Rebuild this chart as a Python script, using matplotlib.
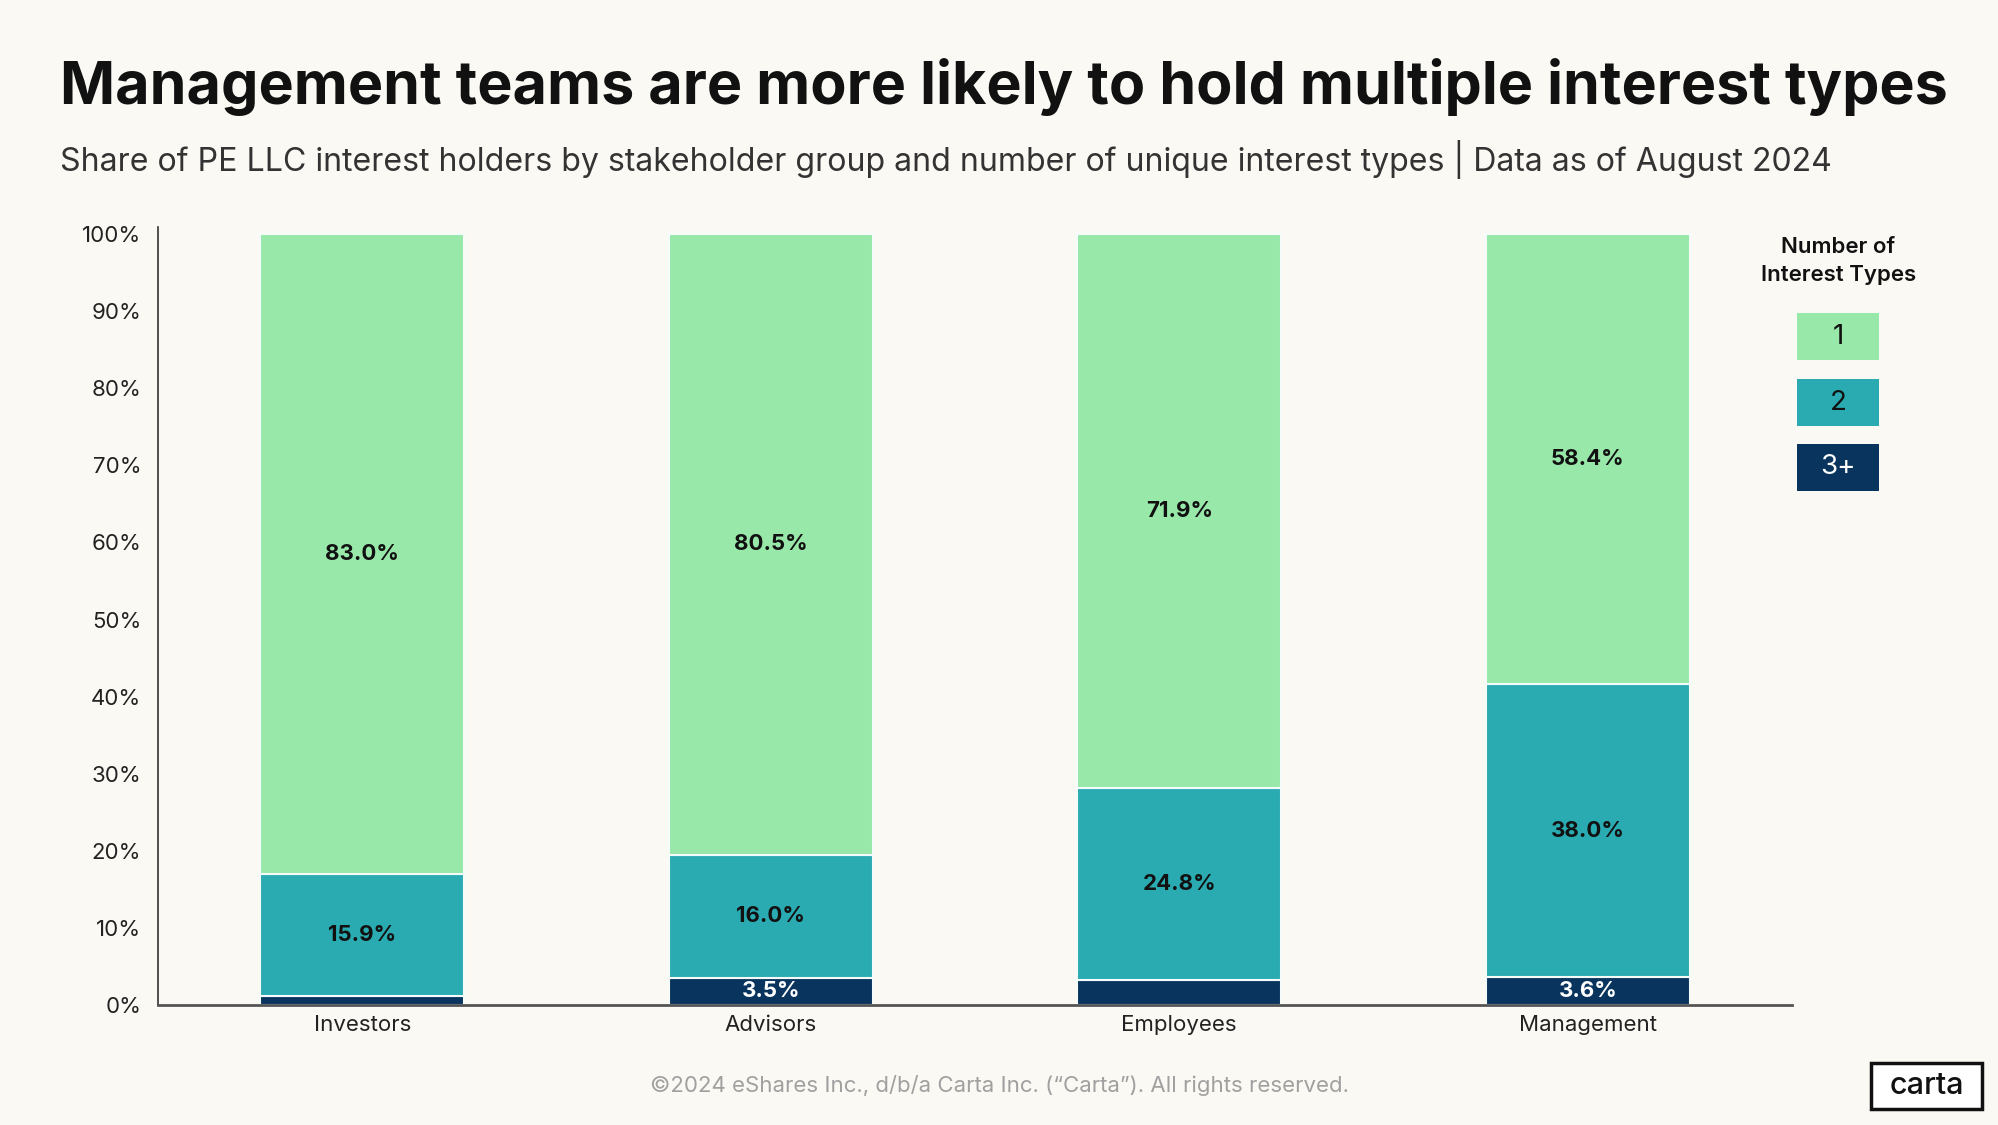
import matplotlib
matplotlib.use('Agg')
import matplotlib.pyplot as plt
from matplotlib.patches import Rectangle
import numpy as np

plt.rcParams['font.family'] = ['Inter', 'DejaVu Sans']

BG = '#FBF9F3'
COLORS = ['#98E8AA', '#2AABB1', '#08345E']
TEXT_COLORS = ['#111111', '#111111', '#FFFFFF']

groups = ['Investors', 'Advisors', 'Employees', 'Management']
series_names = ['1', '2', '3+']
one_type = [83.0, 80.5, 71.9, 58.4]
two_types = [15.9, 16.0, 24.8, 38.0]
three_plus = [1.1, 3.5, 3.3, 3.6]
y_ticks = [0, 10, 20, 30, 40, 50, 60, 70, 80, 90, 100]

fig = plt.figure(figsize=(19.99, 11.25), dpi=100)
fig.patch.set_facecolor(BG)
ax = fig.add_axes([0.079, 0.1067, 0.8175, 0.6913])
ax.set_facecolor(BG)

x = np.arange(len(groups))
# stack from the bottom: 3+, then 2, then 1
stack = [three_plus, two_types, one_type]
stack_colors = [COLORS[2], COLORS[1], COLORS[0]]
stack_text = [TEXT_COLORS[2], TEXT_COLORS[1], TEXT_COLORS[0]]
bottom = np.zeros(len(groups))
for vals, col, tcol in zip(stack, stack_colors, stack_text):
    vals = np.array(vals)
    ax.bar(x, vals, bottom=bottom, width=0.5, color=col,
           edgecolor='#F4FBF8', linewidth=1.5, zorder=2)
    for xi, b, v in zip(x, bottom, vals):
        if v >= 3.5:
            ax.text(xi, b + v / 2, f'{v:.1f}%', ha='center', va='center',
                    fontsize=16, fontweight='bold', color=tcol, zorder=3)
    bottom = bottom + vals

ax.set_xlim(-0.5, 3.5)
ax.set_ylim(0, 100.9)
ax.set_yticks(y_ticks)
ax.set_yticklabels([f'{t}%' for t in y_ticks], fontsize=16, color='#222222')
ax.set_xticks(x)
ax.set_xticklabels(groups, fontsize=16, color='#222222')
ax.tick_params(axis='both', length=0)
ax.tick_params(axis='y', pad=12)
ax.tick_params(axis='x', pad=7)
for side in ['top', 'right']:
    ax.spines[side].set_visible(False)
ax.spines['left'].set_color('#333333')
ax.spines['left'].set_linewidth(1.2)
ax.spines['bottom'].set_color('#555555')
ax.spines['bottom'].set_linewidth(2)

# titles
fig.text(0.030, 0.923, 'Management teams are more likely to hold multiple interest types',
         fontsize=42.6, fontweight='bold', color='#111111', ha='left', va='center')
fig.text(0.030, 0.858, 'Share of PE LLC interest holders by stakeholder group and number of '
         'unique interest types | Data as of August 2024',
         fontsize=23.1, color='#333333', ha='left', va='center')

# legend
fig.text(0.9195, 0.768, 'Number of\nInterest Types', fontsize=16, fontweight='semibold',
         color='#111111', ha='center', va='center', linespacing=1.45)
box_tops = [313, 379, 444]
for name, col, tcol, top in zip(series_names, COLORS, TEXT_COLORS, box_tops):
    y0 = 1 - (top + 47) / 1125
    fig.patches.append(Rectangle((1797 / 1999, y0), 82 / 1999, 47 / 1125,
                                 transform=fig.transFigure, facecolor=col, edgecolor='none'))
    fig.text(1838 / 1999, y0 + 23.5 / 1125, name, fontsize=20, color=tcol,
             ha='center', va='center')

# footer
fig.text(0.5, 1 - 1086 / 1125,
         '\u00a92024 eShares Inc., d/b/a Carta Inc. (\u201cCarta\u201d). All rights reserved.',
         fontsize=16, color='#A0A0A0', ha='center', va='center')
fig.patches.append(Rectangle((1871 / 1999, 1 - 1109 / 1125), 111 / 1999, 46 / 1125,
                             transform=fig.transFigure, facecolor='white',
                             edgecolor='#111111', linewidth=2.5))
fig.text(1926.5 / 1999, 1 - 1086 / 1125, 'carta', fontsize=22, fontweight='medium',
         color='#111111', ha='center', va='center')

fig.savefig('out.png', dpi=100, facecolor=BG)
